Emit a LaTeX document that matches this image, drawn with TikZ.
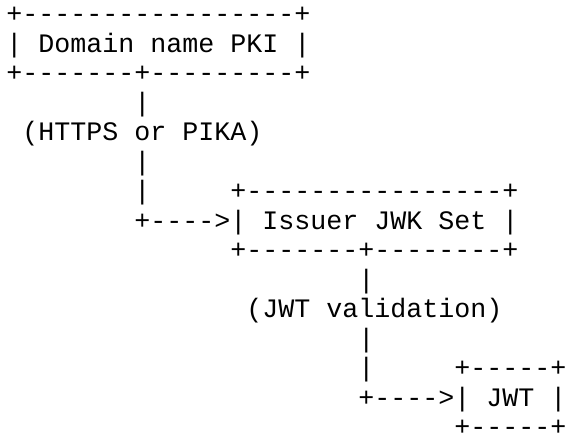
\documentclass[tikz,border=0pt]{standalone}
\usepackage{fontspec}
\setmonofont{Liberation Mono}
\usepackage{tikz}

\tikzset{
  ascii/.style={font=\ttfamily\fontsize{13.33}{14.75}\selectfont, anchor=base west, inner sep=0pt, outer sep=0pt}
}

\begin{document}
\begin{tikzpicture}[x=8pt, y=-14.75pt]
        \useasboundingbox (-0.406,-0.77) rectangle (34.97,13.94);
        % Domain name PKI box
        \node[ascii] (pkitop) at (0,0) {+-----------------+};
        \node[ascii] (pki) at (0,1) {| Domain name PKI |};
        \node[ascii] (pkibottom) at (0,2) {+-------+---------+};
        \node[ascii] (pkidown) at (8,3) {|};
        \node[ascii] (https) at (1,4) {(HTTPS or PIKA)};
        \node[ascii] (httpsdown) at (8,5) {|};
        \node[ascii] (httpscorner) at (8,6) {|};
        % Issuer JWK Set box
        \node[ascii] (jwkstop) at (14,6) {+----------------+};
        \node[ascii] (jwks) at (8,7) {+---->| Issuer JWK Set |};
        \node[ascii] (jwksbottom) at (14,8) {+-------+--------+};
        \node[ascii] (jwksdown) at (22,9) {|};
        \node[ascii] (validation) at (15,10) {(JWT validation)};
        \node[ascii] (validdown) at (22,11) {|};
        \node[ascii] (validcorner) at (22,12) {|};
        % JWT box
        \node[ascii] (jwttop) at (28,12) {+-----+};
        \node[ascii] (jwt) at (22,13) {+---->| JWT |};
        \node[ascii] (jwtbottom) at (28,14) {+-----+};
\end{tikzpicture}
\end{document}
